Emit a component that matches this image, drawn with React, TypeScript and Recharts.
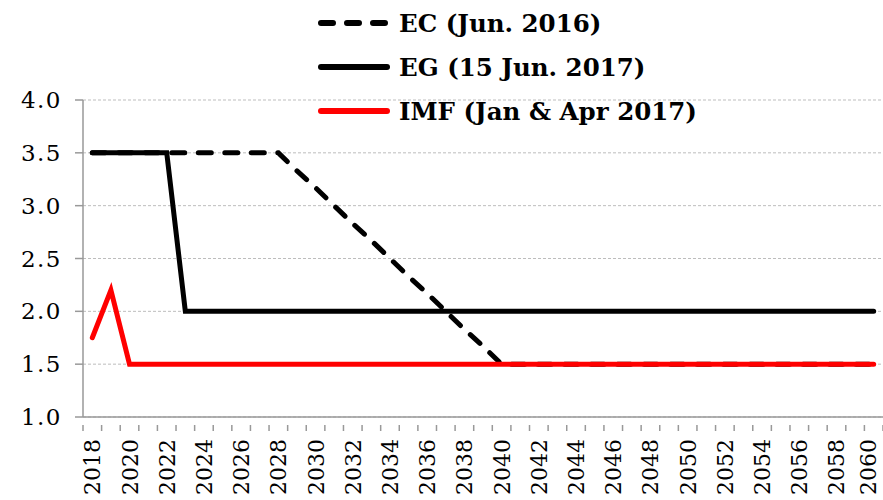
import React from 'react';
import { LineChart, Line, XAxis, YAxis, CartesianGrid, Legend } from 'recharts';

const years = [
  2018, 2019, 2020, 2021, 2022, 2023, 2024, 2025, 2026, 2027, 2028, 2029, 2030, 2031,
  2032, 2033, 2034, 2035, 2036, 2037, 2038, 2039, 2040, 2041, 2042, 2043, 2044, 2045,
  2046, 2047, 2048, 2049, 2050, 2051, 2052, 2053, 2054, 2055, 2056, 2057, 2058, 2059, 2060,
];

// EC (Jun. 2016)
const ecValues = [
  3.5, 3.5, 3.5, 3.5, 3.5, 3.5, 3.5, 3.5, 3.5, 3.5, 3.5, 3.33, 3.17, 3.0,
  2.83, 2.67, 2.5, 2.33, 2.17, 2.0, 1.83, 1.67, 1.5, 1.5, 1.5, 1.5, 1.5, 1.5,
  1.5, 1.5, 1.5, 1.5, 1.5, 1.5, 1.5, 1.5, 1.5, 1.5, 1.5, 1.5, 1.5, 1.5, 1.5,
];

// EG (15 Jun. 2017)
const egValues = [
  3.5, 3.5, 3.5, 3.5, 3.5, 2.0, 2.0, 2.0, 2.0, 2.0, 2.0, 2.0, 2.0, 2.0,
  2.0, 2.0, 2.0, 2.0, 2.0, 2.0, 2.0, 2.0, 2.0, 2.0, 2.0, 2.0, 2.0, 2.0,
  2.0, 2.0, 2.0, 2.0, 2.0, 2.0, 2.0, 2.0, 2.0, 2.0, 2.0, 2.0, 2.0, 2.0, 2.0,
];

// IMF (Jan & Apr 2017)
const imfValues = [
  1.75, 2.2, 1.5, 1.5, 1.5, 1.5, 1.5, 1.5, 1.5, 1.5, 1.5, 1.5, 1.5, 1.5,
  1.5, 1.5, 1.5, 1.5, 1.5, 1.5, 1.5, 1.5, 1.5, 1.5, 1.5, 1.5, 1.5, 1.5,
  1.5, 1.5, 1.5, 1.5, 1.5, 1.5, 1.5, 1.5, 1.5, 1.5, 1.5, 1.5, 1.5, 1.5, 1.5,
];

const yTicks = [1.0, 1.5, 2.0, 2.5, 3.0, 3.5, 4.0];
const labelYears = years.filter(y => y % 2 === 0);

const data = years.map((year, i) => ({
  year,
  ec: ecValues[i],
  eg: egValues[i],
  imf: imfValues[i],
}));

// boundary ticks between categories, plus the labelled years
const boundaryTicks = [...years.map(y => y - 0.5), years[years.length - 1] + 0.5];
const xTicks = [...boundaryTicks, ...labelYears].sort((a, b) => a - b);

const FONT = '"DejaVu Serif", serif';

const legendItems = [
  { name: 'EC (Jun. 2016)', color: '#000000', dash: '12 14' },
  { name: 'EG (15 Jun. 2017)', color: '#000000', dash: undefined },
  { name: 'IMF (Jan & Apr 2017)', color: '#ff0000', dash: undefined },
];

const XTick = (props: any) => {
  const { x, y, payload } = props;
  const v = payload.value;
  if (!Number.isInteger(v)) {
    return <line x1={x} y1={y} x2={x} y2={y + 6} stroke="#999999" strokeWidth={1.5} />;
  }
  // keep the last label inside the picture
  const tx = Math.min(x + 8, 876);
  const ty = y + 14;
  return (
    <text
      x={tx}
      y={ty}
      transform={`rotate(-90, ${tx}, ${ty})`}
      textAnchor="end"
      fontFamily={FONT}
      fontSize={22}
      fill="#000"
    >
      {v}
    </text>
  );
};

const LegendContent = () => (
  <div style={{ fontFamily: FONT, fontWeight: 'bold', fontSize: 24.5, color: '#000', whiteSpace: 'nowrap' }}>
    {legendItems.map(item => (
      <div key={item.name} style={{ display: 'flex', alignItems: 'center', height: 44 }}>
        <svg width={76} height={20} style={{ marginRight: 6 }}>
          <line
            x1={4}
            y1={10}
            x2={70}
            y2={10}
            stroke={item.color}
            strokeWidth={6}
            strokeLinecap="round"
            strokeDasharray={item.dash}
          />
        </svg>
        <span>{item.name}</span>
      </div>
    ))}
  </div>
);

const App: React.FC = () => {
  return (
    <div style={{ position: 'absolute', left: 0, top: 0, width: 883, height: 500, background: '#fff' }}>
      <LineChart width={883} height={500} data={data} margin={{ top: 100, right: 0, left: 0, bottom: 0 }}>
        <CartesianGrid vertical={false} stroke="#bdbdbd" strokeDasharray="3 2" />
        <XAxis
          dataKey="year"
          type="number"
          domain={[2017.5, 2060.5]}
          ticks={xTicks}
          interval={0}
          tick={<XTick />}
          tickLine={false}
          axisLine={{ stroke: '#999999', strokeWidth: 1.5 }}
          height={83}
        />
        <YAxis
          domain={[1, 4]}
          ticks={yTicks}
          interval={0}
          tickFormatter={(v: number) => v.toFixed(1)}
          tick={{ fontFamily: FONT, fontSize: 23, fill: '#000', letterSpacing: 1.5 }}
          tickLine={{ stroke: '#999999', strokeWidth: 1.5 }}
          tickSize={8}
          tickMargin={13}
          axisLine={{ stroke: '#999999', strokeWidth: 1.5 }}
          width={83}
        />
        <Legend
          layout="horizontal"
          verticalAlign="middle"
          align="center"
          content={<LegendContent />}
          wrapperStyle={{ position: 'absolute', top: 1, left: 317, width: 440, height: 132 }}
        />
        <Line
          type="linear"
          dataKey="ec"
          name="EC (Jun. 2016)"
          stroke="#000000"
          strokeWidth={5}
          strokeDasharray="13 13.5"
          strokeLinecap="round"
          dot={false}
          activeDot={false}
          isAnimationActive={false}
        />
        <Line
          type="linear"
          dataKey="eg"
          name="EG (15 Jun. 2017)"
          stroke="#000000"
          strokeWidth={5}
          strokeLinecap="round"
          dot={false}
          activeDot={false}
          isAnimationActive={false}
        />
        <Line
          type="linear"
          dataKey="imf"
          name="IMF (Jan & Apr 2017)"
          stroke="#ff0000"
          strokeWidth={5}
          strokeLinecap="round"
          dot={false}
          activeDot={false}
          isAnimationActive={false}
        />
      </LineChart>
    </div>
  );
};

export default App;
